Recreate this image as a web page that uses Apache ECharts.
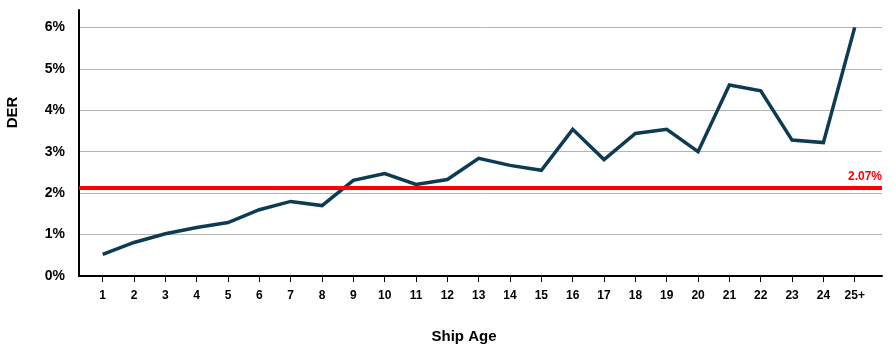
<!DOCTYPE html>
<html>
<head>
<meta charset="utf-8">
<script src="https://cdn.jsdelivr.net/npm/echarts@6/dist/echarts.min.js"></script>
<style>
html,body{margin:0;padding:0;background:#fff;}
#chart{width:895px;height:355px;}
</style>
</head>
<body>
<div id="chart"></div>
<script>
// ---- data ----
var categories = ['1','2','3','4','5','6','7','8','9','10','11','12','13','14','15','16','17','18','19','20','21','22','23','24','25+'];
var derValues = [0.52,0.81,1.02,1.17,1.29,1.60,1.80,1.70,2.31,2.47,2.21,2.33,2.84,2.67,2.55,3.54,2.81,3.44,3.54,3.00,4.61,4.47,3.28,3.22,6.00];
var referenceValue = 2.14;
var referenceLabel = '2.07%';
var yTickValues = [0,1,2,3,4,5,6];
var xTitle = 'Ship Age';
var yTitle = 'DER';

var chart = echarts.init(document.getElementById('chart'), null, {renderer:'canvas'});
var fontFam = '"Liberation Sans", Arial, Helvetica, sans-serif';
var yMax = 6.42;

var splitColors = yTickValues.map(function(){return '#b4b4b4';});
splitColors.push('rgba(0,0,0,0)');

chart.setOption({
  animation:false,
  backgroundColor:'#ffffff',
  grid:[
    {left:79, right:13, top:10, bottom:79},
    {left:87, right:24.6, top:10, bottom:79}
  ],
  xAxis:[
    {type:'value', gridIndex:0, min:0, max:1, interval:1,
     axisLine:{show:true, lineStyle:{color:'#000', width:2}},
     axisTick:{show:false}, axisLabel:{show:false}, splitLine:{show:false}},
    {type:'category', gridIndex:1, data:categories, boundaryGap:true,
     axisLine:{show:false},
     axisTick:{show:true, alignWithLabel:true, length:6, lineStyle:{color:'#000', width:1}},
     axisLabel:{color:'#000', fontWeight:'bold', fontSize:12, fontFamily:fontFam, margin:14},
     splitLine:{show:false}}
  ],
  yAxis:[
    {type:'value', gridIndex:0, min:0, max:yMax, interval:1,
     axisLine:{show:true, lineStyle:{color:'#000', width:2}},
     axisTick:{show:false},
     axisLabel:{color:'#000', fontWeight:'bold', fontSize:14, fontFamily:fontFam, margin:14,
       formatter:function(v){ return (Math.abs(v-Math.round(v))<1e-6) ? (Math.round(v)+'%') : ''; }},
     splitLine:{show:true, lineStyle:{color:splitColors, width:1}}},
    {type:'value', gridIndex:1, min:0, max:yMax, interval:1, show:false,
     splitLine:{show:false}}
  ],
  graphic:[
    {type:'text', position:[464,337], style:{text:xTitle, font:'bold 15px '+fontFam, fill:'#000', textAlign:'center', textVerticalAlign:'middle'}},
    {type:'text', rotation:Math.PI/2, position:[13,112.5], style:{text:yTitle, font:'bold 15px '+fontFam, fill:'#000', textAlign:'center', textVerticalAlign:'middle'}}
  ],
  series:[
    {type:'line', xAxisIndex:1, yAxisIndex:1, data:derValues, symbol:'none', z:3,
     lineStyle:{color:'#0d3b53', width:3.5, join:'miter'}},
    {type:'line', xAxisIndex:0, yAxisIndex:0, data:[], symbol:'none', z:4,
     markLine:{silent:true, symbol:'none', animation:false,
       lineStyle:{color:'#ff0000', width:4, type:'solid'},
       label:{show:true, position:'insideEndTop', formatter:referenceLabel, color:'#ff0000',
         fontWeight:'bold', fontSize:12, fontFamily:fontFam, distance:[0,5]},
       data:[{yAxis:referenceValue}]}}
  ]
});
</script>
</body>
</html>
